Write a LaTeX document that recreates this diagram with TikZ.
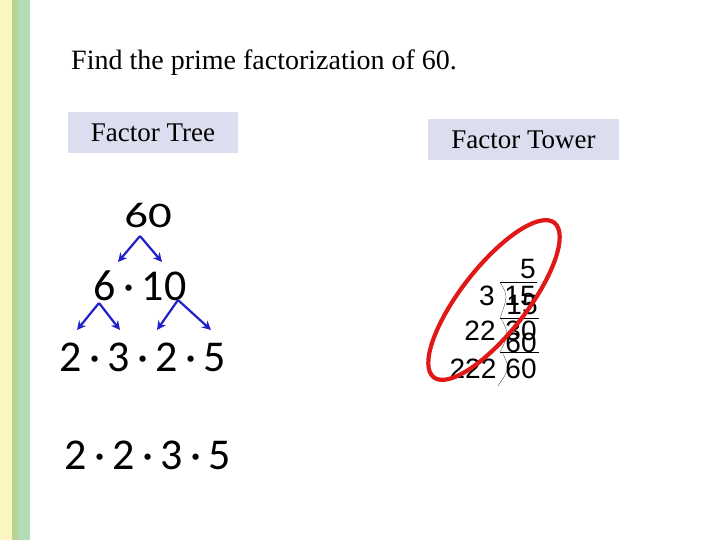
\documentclass[tikz,border=0pt]{standalone}
\usepackage{fontspec}
\usetikzlibrary{arrows.meta}
\setmainfont{Liberation Serif}
\newfontfamily\calib{Carlito}
\newfontfamily\arialf{Liberation Sans}
\definecolor{stripeyel}{HTML}{FBF4C3}
\definecolor{stripegrn}{HTML}{B7D491}
\definecolor{stripelgr}{HTML}{B5DCB9}
\definecolor{labelbg}{HTML}{DCDDEF}
\definecolor{arrblue}{HTML}{2020C8}
\definecolor{ringred}{HTML}{E01818}
\tikzset{
  lbl/.style={fill=labelbg, minimum height=41pt, inner sep=0pt, font=\fontsize{27}{30}\selectfont},
  tree/.style={inner sep=0pt, font=\calib\fontsize{44}{50}\selectfont},
  twr/.style={inner sep=0pt, font=\arialf\fontsize{28}{30}\selectfont},
  barr/.style={arrblue, line width=2.2pt, -{Stealth[length=9pt,width=9pt]}}
}
\begin{document}
\begin{tikzpicture}[x=1pt,y=-1pt]
\useasboundingbox (0,0) rectangle (720,540);
% side stripes
\fill[stripeyel] (0,0) rectangle (12,540);
\fill[stripegrn] (12,0) rectangle (18,540);
\fill[stripelgr] (18,0) rectangle (30,540);

\node[anchor=base west, inner sep=0pt, font=\fontsize{28}{32}\selectfont] (title) at (71,70) {Find the prime factorization of 60.};
\node[lbl, minimum width=170pt] (treelbl) at (153,132.5) {Factor Tree};
\node[lbl, minimum width=191pt] (towlbl) at (523.5,139.5) {Factor Tower};

% factor tree
\node[tree, font=\calib\fontsize{36}{40}\selectfont, xscale=1.3] (n60) at (148,215) {60};
\node[tree] (row1) at (140,286) {6\,·\,10};
\node[tree] (row2) at (143,357) {2\,·\,3\,·\,2\,·\,5};
\node[tree] (row3) at (148,455) {2\,·\,2\,·\,3\,·\,5};
\coordinate (t1) at (140,236);
\coordinate (t2) at (99,303);
\coordinate (t3) at (178,300);
\coordinate (e1) at (118,262);
\coordinate (e2) at (162,262);
\coordinate (e3) at (77,330);
\coordinate (e4) at (120,330);
\coordinate (e5) at (157,330);
\coordinate (e6) at (209,330);
\draw[barr] (t1) -- (e1);
\draw[barr] (t1) -- (e2);
\draw[barr] (t2) -- (e3);
\draw[barr] (t2) -- (e4);
\draw[barr] (t3) -- (e5);
\draw[barr] (t3) -- ([xshift=2pt]e6);

% factor tower
\node[twr] (q5) at (528,269) {5};
\node[twr] (d3) at (487,296) {3};
\node[twr] (n15) at (520,296) {15};
\node[twr] (n15b) at (522,305) {15};
\node[twr] (d22) at (480,331) {22};
\node[twr] (n30) at (521,331) {30};
\node[twr] (n60b) at (521,343) {60};
\node[twr] (d222) at (473,369) {222};
\node[twr] (n60) at (521,369) {60};
\draw[thin] (500,282) -- (537,282);
\draw[thin] (500,318) -- (539,318);
\draw[thin] (500,352) -- (539,352);
\draw[very thin] (500,282) .. controls (508,296) .. (500,318);
\draw[very thin] (501,318) .. controls (509,334) .. (500,352);
\draw[very thin] (502,352) .. controls (510,368) .. (498,386);
\draw[ringred, line width=4.2pt] (494,300) ellipse[x radius=98pt, y radius=33pt, rotate=52];
\end{tikzpicture}
\end{document}
